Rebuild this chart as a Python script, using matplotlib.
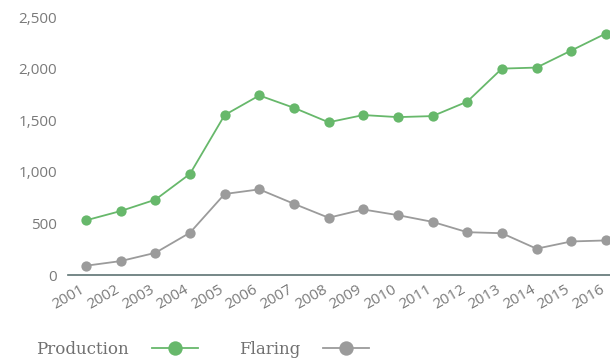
import matplotlib
matplotlib.use("Agg")
import matplotlib.pyplot as plt
import matplotlib.transforms as mtransforms
from matplotlib.ticker import FuncFormatter

# ---------------- Data ---------------- #
years = list(range(2001, 2017))
production = [530, 620, 730, 980, 1550, 1740, 1620, 1480, 1550, 1530,
              1540, 1680, 2000, 2010, 2175, 2340]
flaring = [90, 135, 215, 410, 785, 830, 690, 555, 635, 580,
           515, 415, 405, 255, 325, 335]

GREEN = "#67b86b"
GREY = "#9b9b9b"
TICK_GREY = "#7a7a7a"

fig = plt.figure(figsize=(6.10, 3.62), dpi=100)
ax = fig.add_axes([0.1115, 0.2403, 0.8885, 0.7127])

ax.plot(years, production, color=GREEN, lw=1.3, marker="o", ms=7.4, mew=0,
        label="Production", clip_on=False, zorder=3)
ax.plot(years, flaring, color=GREY, lw=1.3, marker="o", ms=7.4, mew=0,
        label="Flaring", clip_on=False, zorder=3)

ax.set_xlim(2000.48, 2016.12)
ax.set_ylim(0, 2500)
ax.set_xticks(years)
ax.set_yticks([0, 500, 1000, 1500, 2000, 2500])
ax.yaxis.set_major_formatter(FuncFormatter(lambda v, p: f"{int(v):,}"))

for s in ["top", "right", "left"]:
    ax.spines[s].set_visible(False)
ax.spines["bottom"].set_color("#5d7373")
ax.spines["bottom"].set_linewidth(1.2)

ax.tick_params(axis="both", length=0, colors=TICK_GREY)
ax.tick_params(axis="y", pad=8)
ax.tick_params(axis="x", pad=5)
for lbl in ax.get_yticklabels():
    lbl.set_fontfamily("Open Sans")
    lbl.set_fontsize(11)
shift = mtransforms.ScaledTranslation(-6 / 100, 0, fig.dpi_scale_trans)
for lbl in ax.get_xticklabels():
    lbl.set_fontfamily("Open Sans")
    lbl.set_fontsize(11)
    lbl.set_rotation(30)
    lbl.set_ha("right")
    lbl.set_rotation_mode("anchor")
    lbl.set_transform(lbl.get_transform() + shift)

leg = fig.legend(loc="lower left", bbox_to_anchor=(0.035, -0.03), ncol=2,
                 markerfirst=False, frameon=False, handlelength=2.76,
                 handletextpad=1.38, columnspacing=2.46, markerscale=1.4,
                 prop={"family": "DejaVu Serif", "size": 12})
for t in leg.get_texts():
    t.set_color("#707070")

fig.savefig("out.png", dpi=100)
